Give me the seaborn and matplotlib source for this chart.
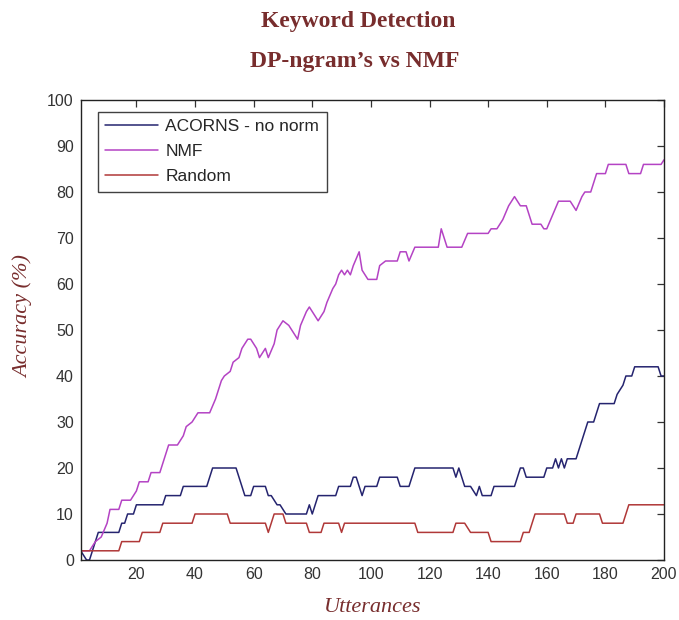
import matplotlib
matplotlib.use("Agg")
import matplotlib.pyplot as plt
import seaborn as sns
import pandas as pd

# ---- data (vertices) ----
acorns_x = [1, 3, 4, 6, 7, 14, 15, 16, 17, 19, 20, 29, 30, 35, 36, 44, 46, 54, 57, 59, 60, 64, 65, 66,
            68, 69, 71, 78, 79, 80, 81, 82, 88, 89, 93, 94, 95, 97, 98, 102, 103, 109, 110, 113, 114,
            115, 128, 129, 130, 131, 132, 134, 136, 137, 138, 141, 142, 149, 151, 152, 153, 159, 160,
            162, 163, 164, 165, 166, 167, 170, 171, 172, 173, 174, 176, 178, 183, 184, 186, 187, 189,
            190, 198, 199, 200]
acorns_y = [2, 0, 0, 4, 6, 6, 8, 8, 10, 10, 12, 12, 14, 14, 16, 16, 20, 20, 14, 14, 16, 16, 14, 14,
            12, 12, 10, 10, 12, 10, 12, 14, 14, 16, 16, 18, 18, 14, 16, 16, 18, 18, 16, 16, 18,
            20, 20, 18, 20, 18, 16, 16, 14, 16, 14, 14, 16, 16, 20, 20, 18, 18, 20,
            20, 22, 20, 22, 20, 22, 22, 24, 26, 28, 30, 30, 34, 34, 36, 38, 40, 40,
            42, 42, 40, 40]

nmf_x = [1, 4, 6, 8, 10, 11, 14, 15, 18, 20, 21, 24, 25, 28, 29, 31, 34, 36, 37, 39, 41, 45, 47, 49,
         50, 52, 53, 55, 56, 58, 59, 61, 62, 64, 65, 67, 68, 70, 72, 73, 75, 76, 78, 79, 80, 82, 84,
         85, 87, 88, 89, 90, 91, 92, 93, 94, 96, 97, 99, 102, 103, 105, 109, 110, 112, 113, 115,
         123, 124, 126, 131, 133, 140, 141, 143, 145, 147, 149, 151, 153, 155, 158, 159, 160, 162,
         164, 168, 170, 172, 173, 175, 177, 180, 181, 187, 188, 192, 193, 199, 200]
nmf_y = [2, 2, 4, 5, 8, 11, 11, 13, 13, 15, 17, 17, 19, 19, 21, 25, 25, 27, 29, 30, 32, 32, 35, 39,
         40, 41, 43, 44, 46, 48, 48, 46, 44, 46, 44, 47, 50, 52, 51, 50, 48, 51, 54, 55, 54, 52, 54,
         56, 59, 60, 62, 63, 62, 63, 62, 64, 67, 63, 61, 61, 64, 65, 65, 67, 67, 65, 68,
         68, 72, 68, 68, 71, 71, 72, 72, 74, 77, 79, 77, 77, 73, 73, 72, 72, 75,
         78, 78, 76, 79, 80, 80, 84, 84, 86, 86, 84, 84, 86, 86, 87]

random_x = [1, 14, 15, 21, 22, 28, 29, 39, 40, 51, 52, 64, 65, 66, 67, 70, 71, 78, 79, 83, 84, 89,
            90, 91, 115, 116, 128, 129, 132, 134, 140, 141, 151, 152, 154, 156, 166, 167, 169, 170,
            178, 179, 186, 188, 200]
random_y = [2, 2, 4, 4, 6, 6, 8, 8, 10, 10, 8, 8, 6, 8, 10, 10, 8, 8, 6, 6, 8, 8,
            6, 8, 8, 6, 6, 8, 8, 6, 6, 4, 4, 6, 6, 10, 10, 8, 8, 10,
            10, 8, 8, 12, 12]

series_names = ["ACORNS - no norm", "NMF", "Random"]
x_ticks = [20, 40, 60, 80, 100, 120, 140, 160, 180, 200]
y_ticks = [0, 10, 20, 30, 40, 50, 60, 70, 80, 90, 100]

df = pd.concat([
    pd.DataFrame({"x": acorns_x, "y": acorns_y, "series": series_names[0]}),
    pd.DataFrame({"x": nmf_x, "y": nmf_y, "series": series_names[1]}),
    pd.DataFrame({"x": random_x, "y": random_y, "series": series_names[2]}),
], ignore_index=True)

palette = {series_names[0]: "#25246f", series_names[1]: "#b443c4", series_names[2]: "#b03838"}

sns.set_style("white")
plt.rcParams["font.family"] = ["Liberation Sans", "DejaVu Sans"]

fig = plt.figure(figsize=(6.79, 6.20), dpi=100)
ax = fig.add_axes([80.7 / 679, 60 / 620, (664 - 80.7) / 679, 460 / 620])

sns.lineplot(data=df, x="x", y="y", hue="series", palette=palette, estimator=None,
             linewidth=1.1, ax=ax, legend=True)

ax.set_xlim(1, 200)
ax.set_ylim(0, 100)
ax.set_xticks(x_ticks)
ax.set_yticks(y_ticks)
ax.tick_params(direction="in", length=5, width=0.9, top=True, right=True,
               labelsize=11.5, colors="#333333", pad=5)
for s in ax.spines.values():
    s.set_visible(True)
    s.set_color("#222222")
    s.set_linewidth(1.0)

title_color = "#782d2d"
ax.set_xlabel("Utterances", fontsize=16, style="italic", family="Liberation Serif",
              color=title_color)
ax.set_ylabel("Accuracy (%)", fontsize=16, style="italic", family="Liberation Serif",
              color=title_color)
ax.yaxis.set_label_coords(-0.082, 0.53)
ax.xaxis.set_label_coords(0.5, -0.083)

fig.text(0.527, 1 - 22 / 620, "Keyword Detection", ha="center", va="center",
         fontsize=17, fontweight="bold", family="Liberation Serif", color=title_color)
fig.text(0.523, 1 - 62 / 620, "DP-ngram\u2019s vs NMF", ha="center", va="center",
         fontsize=17, fontweight="bold", family="Liberation Serif", color=title_color)

leg = ax.legend(loc="upper left", bbox_to_anchor=(0.029, 0.975), borderaxespad=0,
                fontsize=12.5, frameon=True, fancybox=False, edgecolor="#111111",
                handlelength=3.0, handletextpad=0.45, labelspacing=0.55, borderpad=0.45,
                title=None)
leg.get_frame().set_linewidth(1.0)

fig.savefig("out.png", dpi=100)
